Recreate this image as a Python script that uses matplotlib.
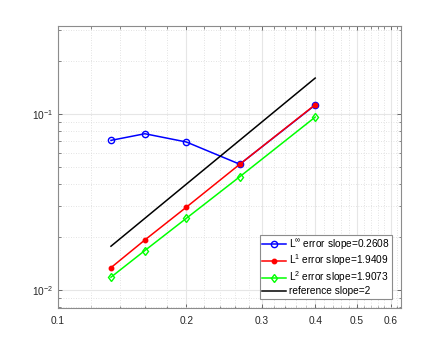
import numpy as np
import matplotlib
matplotlib.use("Agg")
import matplotlib.pyplot as plt
from matplotlib.ticker import FixedLocator, NullFormatter, LogLocator

plt.rcParams['font.family'] = ['Liberation Sans', 'DejaVu Sans']
plt.rcParams['mathtext.fontset'] = 'custom'
plt.rcParams['mathtext.rm'] = 'Liberation Sans'
plt.rcParams['mathtext.it'] = 'Liberation Sans'
plt.rcParams['mathtext.sf'] = 'Liberation Sans'

h = [0.8/6, 0.8/5, 0.8/4, 0.8/3, 0.8/2]
err_inf = [0.0709, 0.0773, 0.0694, 0.0519, 0.1125]
err_l1 = [0.01343, 0.01929, 0.0296, 0.0519, 0.113]
err_l2 = [0.01186, 0.0168, 0.0256, 0.0441, 0.0961]
ref = [x**2 for x in h]

labels = [r'L$^{\infty}$ error slope=0.2608',
          r'L$^{1}$ error slope=1.9409',
          r'L$^{2}$ error slope=1.9073',
          'reference slope=2']
xticks = [0.1, 0.2, 0.3, 0.4, 0.5, 0.6]
xticklabels = ['0.1', '0.2', '0.3', '0.4', '0.5', '0.6']

fig = plt.figure(figsize=(4.43, 3.46), dpi=100)
ax = fig.add_axes([57.5/443, 1-307.5/346, (400.5-57.5)/443, (307.5-26)/346])

ax.loglog(h, err_inf, '-o', color='blue', lw=1.1, ms=4.5, mfc='none', mew=1.0, label=labels[0])
ax.loglog(h, err_l1, '-o', color='red', lw=1.1, ms=3.2, mfc='red', mew=1.0, label=labels[1])
ax.loglog(h, err_l2, '-d', color='#00ff00', lw=1.1, ms=4.5, mfc='none', mew=1.0, label=labels[2])
ax.loglog(h, ref, '-', color='black', lw=1.1, label=labels[3])

ax.set_xlim(0.1, 0.633)
ax.set_ylim(0.00798, 0.316)

ax.xaxis.set_major_locator(FixedLocator(xticks))
ax.set_xticklabels(xticklabels)
minor_x = [v for v in np.round(np.arange(0.12, 0.64, 0.02), 2) if v not in xticks]
ax.xaxis.set_minor_locator(FixedLocator(minor_x))
ax.xaxis.set_minor_formatter(NullFormatter())
ax.yaxis.set_major_locator(LogLocator(base=10, numticks=10))
ax.yaxis.set_minor_locator(LogLocator(base=10, subs=np.arange(2, 10), numticks=20))
ax.yaxis.set_minor_formatter(NullFormatter())

ax.grid(True, which='major', color='#e6e6e6', lw=0.8, ls='-')
ax.grid(True, which='minor', color='#d9d9d9', lw=0.6, ls=(0, (1, 2)))
ax.set_axisbelow(True)

ax.tick_params(which='both', direction='in', top=True, right=True, labelsize=7.3,
               colors='#555555', labelcolor='#262626')
ax.tick_params(which='major', length=3, width=0.6)
ax.tick_params(which='minor', length=1.8, width=0.5)
ax.tick_params(axis='x', pad=6)
for s in ax.spines.values():
    s.set_color('#8c8c8c')
    s.set_linewidth(0.8)

leg = ax.legend(loc='lower right', fontsize=7.3, frameon=True, fancybox=False,
                edgecolor='#8c8c8c', framealpha=1, borderpad=0.25, labelspacing=0.12,
                handlelength=2.3, handletextpad=0.3, borderaxespad=0.85)
leg.get_frame().set_linewidth(0.8)

fig.savefig('out.png', dpi=100)
